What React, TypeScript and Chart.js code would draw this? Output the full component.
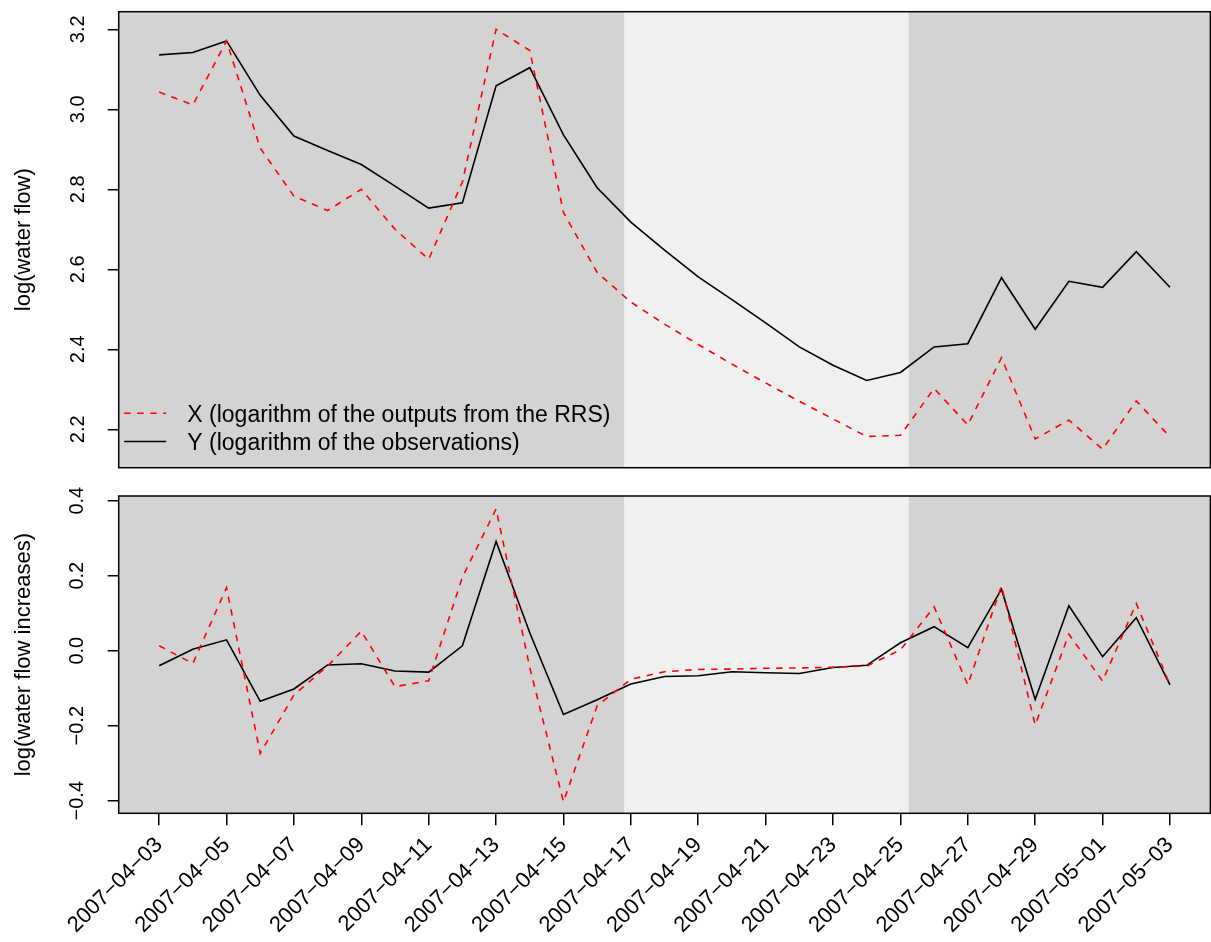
import React, { useEffect, useRef } from 'react';
import { Chart, registerables } from 'chart.js';

Chart.register(...registerables);

const dates = [
  '2007-04-03', '2007-04-04', '2007-04-05', '2007-04-06', '2007-04-07', '2007-04-08',
  '2007-04-09', '2007-04-10', '2007-04-11', '2007-04-12', '2007-04-13', '2007-04-14',
  '2007-04-15', '2007-04-16', '2007-04-17', '2007-04-18', '2007-04-19', '2007-04-20',
  '2007-04-21', '2007-04-22', '2007-04-23', '2007-04-24', '2007-04-25', '2007-04-26',
  '2007-04-27', '2007-04-28', '2007-04-29', '2007-04-30', '2007-05-01', '2007-05-02',
  '2007-05-03',
];

const xTickLabels = [
  '2007-04-03', '2007-04-05', '2007-04-07', '2007-04-09', '2007-04-11', '2007-04-13',
  '2007-04-15', '2007-04-17', '2007-04-19', '2007-04-21', '2007-04-23', '2007-04-25',
  '2007-04-27', '2007-04-29', '2007-05-01', '2007-05-03',
];

// X: logarithm of the outputs from the RRS (red dashed)
const rrsLevel = [
  3.043, 3.011, 3.171, 2.903, 2.783, 2.747, 2.800, 2.700, 2.625, 2.818,
  3.200, 3.147, 2.742, 2.592, 2.518, 2.463, 2.412, 2.363, 2.316, 2.270,
  2.226, 2.182, 2.185, 2.302, 2.211, 2.379, 2.176, 2.223, 2.150, 2.271,
  2.181,
];

// Y: logarithm of the observations (black solid)
const obsLevel = [
  3.136, 3.142, 3.171, 3.035, 2.933, 2.897, 2.862, 2.808, 2.753, 2.766,
  3.059, 3.104, 2.936, 2.804, 2.718, 2.648, 2.581, 2.524, 2.466, 2.406,
  2.360, 2.322, 2.342, 2.406, 2.414, 2.579, 2.450, 2.570, 2.555, 2.644,
  2.555,
];

const rrsIncrease = [
  0.013, -0.034, 0.168, -0.274, -0.118, -0.041, 0.052, -0.096, -0.080, 0.196,
  0.378, -0.045, -0.403, -0.147, -0.076, -0.056, -0.050, -0.049, -0.047, -0.046,
  -0.044, -0.041, 0.002, 0.117, -0.091, 0.173, -0.198, 0.044, -0.081, 0.126,
  -0.091,
];

const obsIncrease = [
  -0.040, 0.004, 0.029, -0.135, -0.102, -0.038, -0.035, -0.054, -0.057, 0.013,
  0.291, 0.048, -0.170, -0.131, -0.089, -0.069, -0.067, -0.056, -0.059, -0.061,
  -0.045, -0.039, 0.021, 0.064, 0.008, 0.164, -0.130, 0.120, -0.016, 0.088,
  -0.091,
];

const levelTicks = [2.2, 2.4, 2.6, 2.8, 3.0, 3.2];
const increaseTicks = [-0.4, -0.2, 0.0, 0.2, 0.4];
const levelRange = [2.104, 3.244];
const increaseRange = [-0.4336, 0.4125];
const dayRange = [-1.2, 31.2];
const lightPeriod = [13.8, 22.25];
const seriesNames = [
  'X (logarithm of the outputs from the RRS)',
  'Y (logarithm of the observations)',
];
const yTitles = ['log(water flow)', 'log(water flow increases)'];

const FONT = '"Liberation Sans", Arial, Helvetica, sans-serif';
const RED = '#ff0000';
const BLACK = '#000000';
const DARK = '#d3d3d3';
const LIGHT = '#f0f0f0';

const minus = (s: string) => s.replace(/-/g, '\u2212');

const backgroundPlugin = {
  id: 'rBackground',
  beforeDraw(chart: any) {
    const { ctx, chartArea: a, scales } = chart;
    const xs = scales.x;
    ctx.save();
    ctx.fillStyle = DARK;
    ctx.fillRect(a.left, a.top, a.right - a.left, a.bottom - a.top);
    const x0 = xs.getPixelForValue(lightPeriod[0]);
    const x1 = xs.getPixelForValue(lightPeriod[1]);
    ctx.fillStyle = LIGHT;
    ctx.fillRect(x0, a.top, x1 - x0, a.bottom - a.top);
    ctx.restore();
  },
  afterDatasetsDraw(chart: any) {
    const { ctx, chartArea: a } = chart;
    ctx.save();
    ctx.strokeStyle = BLACK;
    ctx.lineWidth = 1.5;
    ctx.strokeRect(a.left, a.top, a.right - a.left, a.bottom - a.top);
    ctx.restore();
  },
};

const legendPlugin = {
  id: 'rLegend',
  afterDraw(chart: any) {
    const { ctx, chartArea: a } = chart;
    const rows = [a.bottom - 54.4, a.bottom - 26.2];
    const fs = 23;
    ctx.save();
    chart.data.datasets.forEach((ds: any, i: number) => {
      const y = rows[i];
      ctx.beginPath();
      ctx.strokeStyle = ds.borderColor;
      ctx.lineWidth = ds.borderWidth;
      ctx.setLineDash(ds.borderDash || []);
      ctx.moveTo(a.left + 5.5, y);
      ctx.lineTo(a.left + 47.5, y);
      ctx.stroke();
      ctx.setLineDash([]);
      ctx.fillStyle = BLACK;
      ctx.font = `${fs}px ${FONT}`;
      ctx.textAlign = 'left';
      ctx.textBaseline = 'alphabetic';
      ctx.fillText(ds.label, a.left + 68.6, y + 0.358 * fs);
    });
    ctx.restore();
  },
};

function makeDatasets(xVals: number[], yVals: number[]) {
  return [
    {
      label: seriesNames[0],
      data: xVals.map((v, i) => ({ x: i, y: v })),
      borderColor: RED,
      borderWidth: 1.6,
      borderDash: [6.5, 6.5],
      pointRadius: 0,
      fill: false,
      tension: 0,
    },
    {
      label: seriesNames[1],
      data: yVals.map((v, i) => ({ x: i, y: v })),
      borderColor: BLACK,
      borderWidth: 1.6,
      pointRadius: 0,
      fill: false,
      tension: 0,
    },
  ];
}

function buildConfig(opts: {
  xVals: number[];
  yVals: number[];
  yTicks: number[];
  yRange: number[];
  title: string;
  titleSize: number;
  labelPad: number;
  showX: boolean;
  height: number;
  padTop: number;
  padBottom: number;
  legend: boolean;
}) {
  const titleLine = opts.titleSize * 1.2;
  return {
    type: 'line',
    data: { datasets: makeDatasets(opts.xVals, opts.yVals) },
    plugins: opts.legend ? [backgroundPlugin, legendPlugin] : [backgroundPlugin],
    options: {
      responsive: false,
      animation: false,
      events: [],
      layout: { padding: { top: opts.padTop, right: 0.6, bottom: opts.showX ? 0 : opts.padBottom, left: 0 } },
      plugins: { legend: { display: false }, tooltip: { enabled: false } },
      scales: {
        x: {
          type: 'linear',
          min: dayRange[0],
          max: dayRange[1],
          display: opts.showX,
          afterFit: (scale: any) => {
            scale.height = opts.showX ? opts.padBottom : 0;
            scale.paddingLeft = 0;
            scale.paddingRight = 0;
            scale.paddingTop = 0;
            scale.paddingBottom = 0;
          },
          afterBuildTicks: (scale: any) => {
            scale.ticks = xTickLabels.map((l) => ({ value: dates.indexOf(l) }));
          },
          grid: {
            drawOnChartArea: false,
            drawTicks: true,
            tickLength: 12,
            color: BLACK,
            lineWidth: 1.5,
          },
          border: { display: false },
          ticks: {
            autoSkip: false,
            minRotation: 45,
            maxRotation: 45,
            padding: 7,
            color: BLACK,
            font: { family: FONT, size: 22 },
            callback: (v: any) => minus(dates[Math.round(Number(v))] || ''),
          },
        },
        y: {
          type: 'linear',
          min: opts.yRange[0],
          max: opts.yRange[1],
          afterFit: (scale: any) => {
            scale.width = 118.7;
            scale.paddingLeft = 0;
            scale.paddingRight = 0;
            scale.paddingTop = 0;
            scale.paddingBottom = 0;
          },
          afterBuildTicks: (scale: any) => {
            scale.ticks = opts.yTicks.map((v) => ({ value: v }));
          },
          grid: {
            drawOnChartArea: false,
            drawTicks: true,
            tickLength: 11,
            color: BLACK,
            lineWidth: 1.5,
          },
          border: { display: false },
          title: {
            display: true,
            text: opts.title,
            color: BLACK,
            font: { family: FONT, size: opts.titleSize },
            padding: { top: 24 - titleLine / 2, bottom: 0 },
          },
          ticks: {
            minRotation: 90,
            maxRotation: 90,
            crossAlign: 'center',
            padding: opts.labelPad,
            color: BLACK,
            font: { family: FONT, size: 20 },
            callback: (v: any) => minus(Number(v).toFixed(1)),
          },
        },
      },
    },
  };
}

export default function App() {
  const topRef = useRef<HTMLCanvasElement>(null);
  const bottomRef = useRef<HTMLCanvasElement>(null);

  useEffect(() => {
    const top = new Chart(
      topRef.current as HTMLCanvasElement,
      buildConfig({
        xVals: rrsLevel,
        yVals: obsLevel,
        yTicks: levelTicks,
        yRange: levelRange,
        title: yTitles[0],
        titleSize: 22,
        labelPad: 15.7,
        showX: false,
        height: 480,
        padTop: 11.7,
        padBottom: 12.3,
        legend: true,
      }) as any
    );
    const bottom = new Chart(
      bottomRef.current as HTMLCanvasElement,
      buildConfig({
        xVals: rrsIncrease,
        yVals: obsIncrease,
        yTicks: increaseTicks,
        yRange: increaseRange,
        title: yTitles[1],
        titleSize: 22,
        labelPad: 10,
        showX: true,
        height: 462,
        padTop: 16,
        padBottom: 128.7,
        legend: false,
      }) as any
    );
    return () => {
      top.destroy();
      bottom.destroy();
    };
  }, []);

  return (
    <div style={{ position: 'fixed', left: 0, top: 0, width: 1211, height: 942, background: '#ffffff' }}>
      <canvas ref={topRef} width={1211} height={480} style={{ position: 'absolute', left: 0, top: 0, display: 'block' }} />
      <canvas ref={bottomRef} width={1211} height={462} style={{ position: 'absolute', left: 0, top: 480, display: 'block' }} />
    </div>
  );
}
